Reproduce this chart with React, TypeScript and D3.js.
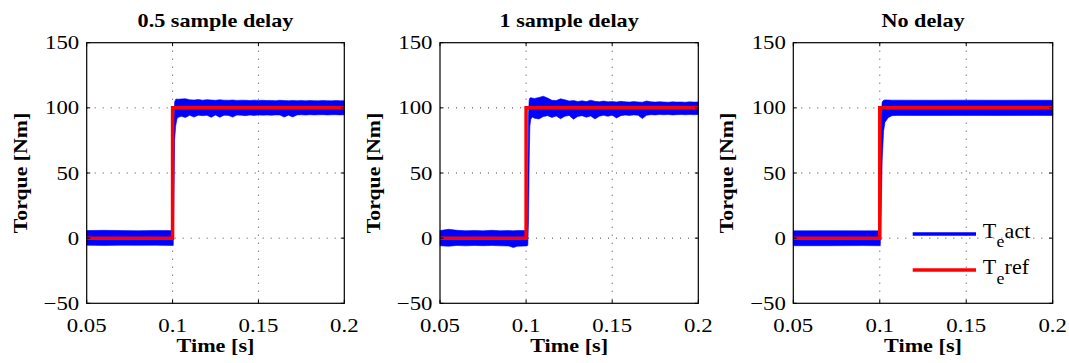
import React from "react";
import * as d3 from "d3";

const TITLES = ["0.5 sample delay", "1 sample delay", "No delay"];
const X_TICKS = [0.05, 0.1, 0.15, 0.2];
const X_TICK_LABELS = ["0.05", "0.1", "0.15", "0.2"];
const Y_TICKS = [-50, 0, 50, 100, 150];
const Y_TICK_LABELS = ["\u221250", "0", "50", "100", "150"];
const LEGEND_MAIN = ["T", "T"];
const LEGEND_SUB = ["e", "e"];
const LEGEND_TAIL = ["act", "ref"];
const SERIES_COLORS = ["#0000ff", "#ff0000"];

const REF_TIME = [0.05, 0.1, 0.1, 0.2];
const REF_TORQUE = [0, 0, 100, 100];

const P1_TIME = [0.05, 0.06, 0.07, 0.08, 0.09, 0.0996, 0.1004, 0.1008, 0.1012, 0.1018, 0.1025, 0.103,
  0.105, 0.1075, 0.11, 0.1125, 0.115, 0.1175, 0.12, 0.1225, 0.125, 0.1275, 0.13, 0.1325, 0.135, 0.1375, 0.14, 0.1425, 0.145, 0.1475, 0.15, 0.1525, 0.155, 0.1575, 0.16, 0.1625, 0.165, 0.1675, 0.17, 0.1725, 0.175, 0.1775, 0.18, 0.1825, 0.185, 0.1875, 0.19, 0.1925, 0.195, 0.1975, 0.2];
const P1_UPPER = [5.8, 6.0, 5.8, 5.7, 5.9, 5.8, 40, 90, 104.5, 106.5, 106.8, 106.6,
  106.8, 107.0, 106.2, 106.0, 106.4, 105.9, 106.3, 106.0, 105.8, 106.2, 105.9, 105.8, 106.0, 105.7, 105.9, 105.8, 105.6, 105.9, 105.7, 105.8, 105.6, 105.7, 105.5, 105.8, 105.6, 105.5, 105.7, 105.5, 105.6, 105.4, 105.6, 105.5, 105.4, 105.6, 105.5, 105.4, 105.6, 105.5, 105.5];
const P1_LOWER = [-5.4, -5.6, -5.4, -5.5, -5.4, -5.6, -5.6, 30, 75, 86, 91, 92.5,
  93.5, 92.6, 94.3, 92.9, 94.4, 94.0, 94.3, 92.7, 94.5, 92.8, 94.4, 94.2, 92.9, 94.5, 94.3, 94.0, 94.5, 94.2, 94.6, 94.4, 94.5, 94.3, 94.6, 94.5, 92.9, 94.4, 93.0, 94.6, 94.7, 94.5, 94.8, 94.6, 94.7, 94.8, 94.6, 94.7, 94.8, 94.6, 94.7];

const P2_TIME = [0.05, 0.055, 0.06, 0.065, 0.07, 0.075, 0.08, 0.085, 0.09, 0.0925, 0.095, 0.0996, 0.1004, 0.101, 0.1014, 0.1018, 0.1022, 0.1027, 0.1035,
  0.105, 0.1075, 0.11, 0.1125, 0.115, 0.1175, 0.12, 0.1225, 0.125, 0.1275, 0.13, 0.1325, 0.135, 0.1375, 0.14, 0.1425, 0.145, 0.1475, 0.15, 0.1525, 0.155, 0.1575, 0.16, 0.1625, 0.165, 0.1675, 0.17, 0.1725, 0.175, 0.1775, 0.18, 0.1825, 0.185, 0.1875, 0.19, 0.1925, 0.195, 0.1975, 0.2];
const P2_UPPER = [5.8, 6.8, 6.0, 5.7, 5.9, 5.6, 6.0, 5.7, 5.8, 5.6, 5.9, 5.8, 6.0, 40, 95, 106, 107.5, 107.8, 107.5,
  107.2, 108.0, 108.9, 107.5, 105.8, 105.6, 106.9, 106.2, 105.2, 105.6, 104.9, 105.4, 104.8, 105.9, 105.0, 104.7, 105.2, 104.6, 104.9, 104.5, 105.0, 104.6, 104.4, 104.8, 104.5, 104.3, 105.3, 104.6, 104.4, 104.7, 104.5, 104.3, 104.6, 104.4, 104.5, 104.3, 104.6, 104.4, 104.5];
const P2_LOWER = [-5.8, -6.2, -5.6, -5.9, -5.6, -5.8, -5.6, -5.9, -6.0, -7.2, -6.2, -6.0, -6.0, -5.5, 14, 60, 86, 91, 93,
  92.0, 91.5, 93.3, 94.0, 92.6, 93.8, 91.6, 93.5, 94.2, 91.3, 93.4, 94.0, 92.8, 93.7, 91.5, 93.6, 94.3, 93.5, 94.4, 92.2, 94.0, 94.5, 94.2, 94.6, 94.4, 91.8, 94.3, 94.8, 94.6, 94.9, 94.7, 94.9, 94.6, 94.8, 94.9, 94.7, 94.9, 94.8, 94.9];

const P3_TIME = [0.05, 0.07, 0.09, 0.0998, 0.1003, 0.1008, 0.1014, 0.1022, 0.103, 0.105, 0.107, 0.11, 0.13, 0.15, 0.17, 0.19, 0.2];
const P3_UPPER = [5.6, 5.7, 5.6, 5.6, 40, 95, 104.5, 105.8, 106.1, 106.0, 105.9, 105.9, 105.8, 105.9, 105.8, 105.9, 105.8];
const P3_LOWER = [-5.8, -5.8, -5.7, -5.8, -5.8, 20, 60, 82, 89, 92.5, 94, 94.2, 94.1, 94.2, 94.1, 94.2, 94.1];

const ACT_TIME = [P1_TIME, P2_TIME, P3_TIME];
const ACT_UPPER = [P1_UPPER, P2_UPPER, P3_UPPER];
const ACT_LOWER = [P1_LOWER, P2_LOWER, P3_LOWER];

const W = 1069;
const H = 363;
const PANEL_LEFT = [86.7, 440, 793.3];
const PANEL_RIGHT = [344.3, 698.3, 1052.7];
const TOP = 42.7;
const BOTTOM = 303.3;
const FONT = "'Liberation Serif', 'Times New Roman', serif";
const SX = 1.2;

function Txt(props: { x: number; y: number; size: number; bold?: boolean; anchor?: string; rotate?: number; children: React.ReactNode; sx?: number }) {
  const { x, y, size, bold, anchor, rotate, children } = props;
  const sx = props.sx ?? SX;
  return (
    <text
      transform={`translate(${x},${y})${rotate ? ` rotate(${rotate})` : ""} scale(${sx},1)`}
      style={{ fontFamily: FONT, fontSize: size, fontWeight: bold ? 700 : 400 }}
      textAnchor={anchor || "start"}
      fill="#000"
    >
      {children}
    </text>
  );
}

function Panel({ idx }: { idx: number }) {
  const x = d3.scaleLinear().domain([0.05, 0.2]).range([PANEL_LEFT[idx], PANEL_RIGHT[idx]]);
  const y = d3.scaleLinear().domain([-50, 150]).range([BOTTOM, TOP]);
  const t = ACT_TIME[idx];
  const hi = ACT_UPPER[idx];
  const lo = ACT_LOWER[idx];
  const n = Math.min(t.length, hi.length, lo.length);
  const ids = d3.range(n);
  const area = d3.area<number>().x((i) => x(t[i])).y0((i) => y(lo[i])).y1((i) => y(hi[i]));
  const refIds = d3.range(REF_TIME.length);
  const line = d3.line<number>().x((i) => x(REF_TIME[i])).y((i) => y(REF_TORQUE[i]));
  const x0 = PANEL_LEFT[idx];
  const x1 = PANEL_RIGHT[idx];
  const cx = (x0 + x1) / 2;
  const tickLen = 3.5;
  return (
    <g>
      {X_TICKS.filter((v) => v > 0.05 && v < 0.2).map((v) => (
        <line key={"gx" + v} x1={x(v)} x2={x(v)} y1={TOP} y2={BOTTOM} stroke="#444" strokeWidth={1} strokeDasharray="1,7" />
      ))}
      {Y_TICKS.filter((v) => v > -50 && v < 150).map((v) => (
        <line key={"gy" + v} x1={x0} x2={x1} y1={y(v)} y2={y(v)} stroke="#444" strokeWidth={1} strokeDasharray="1,7" />
      ))}
      <path d={area(ids) || ""} fill={SERIES_COLORS[0]} stroke={SERIES_COLORS[0]} strokeWidth={0.6} />
      <path d={line(refIds) || ""} fill="none" stroke={SERIES_COLORS[1]} strokeWidth={3.5} />
      <rect x={x0} y={TOP} width={x1 - x0} height={BOTTOM - TOP} fill="none" stroke="#000" strokeWidth={1.2} />
      {X_TICKS.map((v) => (
        <g key={"tx" + v}>
          <line x1={x(v)} x2={x(v)} y1={BOTTOM} y2={BOTTOM - tickLen} stroke="#000" />
          <line x1={x(v)} x2={x(v)} y1={TOP} y2={TOP + tickLen} stroke="#000" />
        </g>
      ))}
      {Y_TICKS.map((v) => (
        <g key={"ty" + v}>
          <line x1={x0} x2={x0 + tickLen} y1={y(v)} y2={y(v)} stroke="#000" />
          <line x1={x1} x2={x1 - tickLen} y1={y(v)} y2={y(v)} stroke="#000" />
        </g>
      ))}
      {X_TICKS.map((v, i) => (
        <Txt key={"lx" + v} x={x(v)} y={331.7} size={19} anchor="middle">{X_TICK_LABELS[i]}</Txt>
      ))}
      {Y_TICKS.map((v, i) => (
        <Txt key={"ly" + v} x={x0 - 7.5} y={y(v) + 6.5} size={19} anchor="end">{Y_TICK_LABELS[i]}</Txt>
      ))}
      <Txt x={cx} y={27.3} size={18.5} bold anchor="middle">{TITLES[idx]}</Txt>
      <Txt x={cx} y={351.5} size={18.5} bold anchor="middle">Time [s]</Txt>
      <Txt x={x0 - 60} y={(TOP + BOTTOM) / 2} size={18.5} bold anchor="middle" rotate={-90} sx={1.18}>Torque [Nm]</Txt>
    </g>
  );
}

function Legend() {
  const lineX0 = 912.7;
  const lineX1 = 976;
  const rows = [
    { ly: 234, base: 237.7 },
    { ly: 270, base: 274 },
  ];
  const lsx = 1.05;
  return (
    <g>
      {LEGEND_TAIL.map((tail, i) => (
        <g key={tail}>
          <line x1={lineX0} x2={lineX1} y1={rows[i].ly} y2={rows[i].ly} stroke={SERIES_COLORS[i]} strokeWidth={3.3} />
          <text
            transform={`translate(982.7,${rows[i].base}) scale(${lsx},1)`}
            style={{ fontFamily: FONT, fontSize: 21 }}
            fill="#000"
          >
            <tspan>{LEGEND_MAIN[i]}</tspan>
            <tspan dx={0.2} dy={9.5} style={{ fontSize: 17 }}>{LEGEND_SUB[i]}</tspan>
            <tspan dx={0.3} dy={-9.5}>{tail}</tspan>
          </text>
        </g>
      ))}
    </g>
  );
}

export default function App() {
  return (
    <svg width={W} height={H} style={{ position: "absolute", left: 0, top: 0, background: "#fff" }}>
      <rect x={0} y={0} width={W} height={H} fill="#fff" />
      {[0, 1, 2].map((i) => (
        <Panel key={i} idx={i} />
      ))}
      <Legend />
    </svg>
  );
}
